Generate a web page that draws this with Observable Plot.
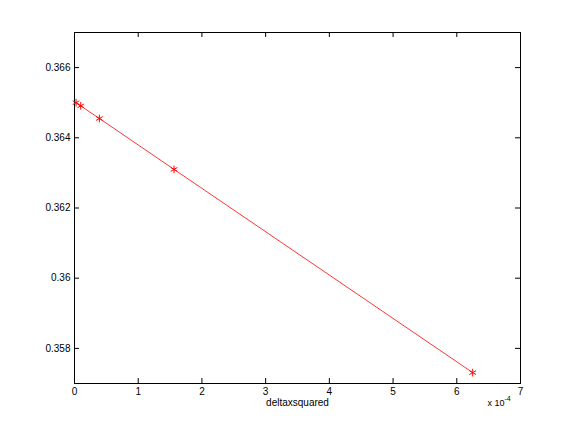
<!DOCTYPE html>
<html>
<head>
<meta charset="utf-8">
<script src="https://cdn.jsdelivr.net/npm/d3@7"></script>
<script src="https://cdn.jsdelivr.net/npm/@observablehq/plot@0.6"></script>
<style>
  html, body { margin: 0; padding: 0; background: #fff; }
  #chart svg { display: block; }
</style>
</head>
<body>
<div id="chart"></div>
<script>
// delta x squared, in units of 1e-4
const deltaXSquared = [0.0244, 0.0977, 0.3906, 1.5625, 6.25];
const values = [0.36500, 0.36491, 0.36455, 0.36310, 0.35731];
const xTicks = [0, 1, 2, 3, 4, 5, 6, 7];
const yTicks = [0.358, 0.36, 0.362, 0.364, 0.366];
const yTickLabels = ["0.358", "0.36", "0.362", "0.364", "0.366"];
const xLabel = "deltaxsquared";
const xExponentBase = "x 10";
const xExponent = "-4";

const data = deltaXSquared.map((x, i) => ({x, y: values[i]}));

const W = 576, H = 432;
const mL = 74, mR = 56, mT = 32, mB = 49;
const fw = W - mL - mR, fh = H - mT - mB;
const tick = 5;

const chart = Plot.plot({
  width: W,
  height: H,
  marginLeft: mL,
  marginRight: mR,
  marginTop: mT,
  marginBottom: mB,
  style: {fontFamily: "'Liberation Sans', Arial, Helvetica, sans-serif", fontSize: "10px", background: "#fff", color: "#000"},
  x: {domain: [0, 7]},
  y: {domain: [0.357, 0.367]},
  marks: [
    Plot.frame({stroke: "#000", strokeWidth: 1}),
    // inward ticks bottom/top
    Plot.tickX(xTicks, {x: d => d, stroke: "#000", insetTop: fh - tick}),
    Plot.tickX(xTicks, {x: d => d, stroke: "#000", insetBottom: fh - tick}),
    // inward ticks left/right
    Plot.tickY(yTicks, {y: d => d, stroke: "#000", insetRight: fw - tick}),
    Plot.tickY(yTicks, {y: d => d, stroke: "#000", insetLeft: fw - tick}),
    Plot.axisX(xTicks, {tickSize: 0, tickPadding: 4, tickFormat: d => String(d), fontSize: 10, label: null}),
    Plot.axisY(yTicks, {tickSize: 0, tickPadding: 4, tickFormat: (d, i) => yTickLabels[yTicks.indexOf(d)], fontSize: 10, label: null}),
    Plot.line(data, {x: "x", y: "y", stroke: "#ff0000", strokeWidth: 0.8}),
    Plot.dot(data, {x: "x", y: "y", symbol: "asterisk", r: 3.6, stroke: "#ff0000", strokeWidth: 1}),
    Plot.text([xLabel], {text: d => d, frameAnchor: "bottom", dy: 22, fontSize: 10, fill: "#000"}),
    Plot.text([xExponentBase], {text: d => d, frameAnchor: "bottom-right", textAnchor: "end", dx: -16, dy: 22, fontSize: 9, fill: "#000"}),
    Plot.text([xExponent], {text: d => d, frameAnchor: "bottom-right", textAnchor: "start", dx: -16, dy: 17, fontSize: 7, fill: "#000"})
  ]
});
document.getElementById("chart").appendChild(chart);
</script>
</body>
</html>
